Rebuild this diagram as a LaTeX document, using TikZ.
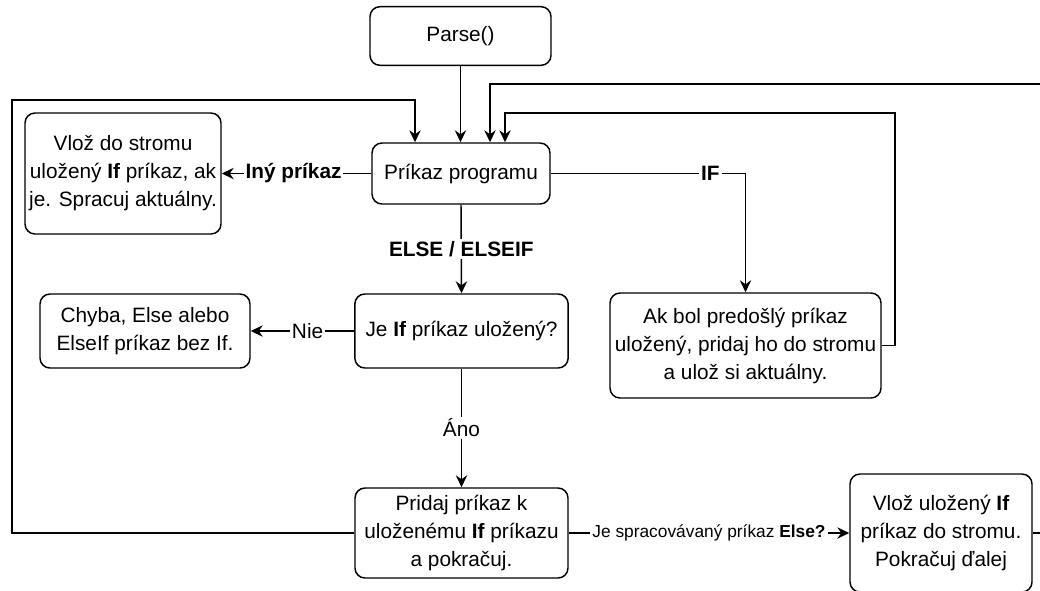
\documentclass[tikz,border=0pt]{standalone}
\usepackage{fontspec}
\setmainfont{Liberation Sans}
\usetikzlibrary{arrows.meta,calc}
\begin{document}
\begin{tikzpicture}[x=0.75pt,y=-0.75pt,
  box/.style={draw, line width=1.1pt, rounded corners=7.5pt, align=center,
    inner sep=0pt, font=\fontsize{15.6}{21}\selectfont},
  lbl/.style={fill=white, inner sep=1.5pt, font=\fontsize{15.6}{21}\selectfont},
  lblsmall/.style={fill=white, inner sep=1.5pt, font=\fontsize{13}{16}\selectfont},
  link/.style={line width=1.1pt},
  arr/.style={line width=1.1pt, -{Stealth[length=9pt,width=8.5pt,inset=3pt]}}]
\clip (0,0) rectangle (1040,590);
\fill[white] (0,0) rectangle (1040,590);

% blocks
\node[box, minimum width=135.75pt, minimum height=44pt] (parse) at (460.5,36) {Parse()};
\node[box, minimum width=133.5pt, minimum height=45.75pt] (prog) at (461,173.5) {Príkaz programu};
\node[box, minimum width=147pt, minimum height=90.75pt] (other) at (123,173.5)
  {Vlož do stromu\\uložený \textbf{If} príkaz, ak\\je. Spracuj aktuálny.};
\node[box, minimum width=160pt, minimum height=55.5pt] (check) at (461.5,331)
  {Je \textbf{If} príkaz uložený?};
\node[box, minimum width=157.5pt, minimum height=55.5pt] (err) at (145,331)
  {Chyba, Else alebo\\ElseIf príkaz bez If.};
\node[box, minimum width=203.25pt, minimum height=78.75pt] (ifst) at (745.5,345.5)
  {Ak bol predošlý príkaz\\uložený, pridaj ho do stromu\\a ulož si aktuálny.};
\node[box, minimum width=159.75pt, minimum height=67.5pt] (add) at (461.5,533)
  {Pridaj príkaz k\\uloženému \textbf{If} príkazu\\a pokračuj.};
\node[box, minimum width=136.5pt, minimum height=88.5pt] (push) at (941,533)
  {Vlož uložený \textbf{If}\\príkaz do stromu.\\Pokračuj ďalej};

% straight connectors
\draw[arr] (parse.south) -- (parse.south |- prog.north);
\draw[arr] (prog.west) -- node[lbl, pos=0.52] {\textbf{Iný príkaz}} (other.east);
\draw[arr] (prog.east) -| node[lbl, pos=0.41] {\textbf{IF}} (ifst.north);
\draw[arr] (prog.south) -- node[lbl] {\textbf{ELSE / ELSEIF}} (check.north);
\draw[arr] (check.west) -- node[lbl, pos=0.45] {Nie} (err.east);
\draw[arr] (check.south) -- node[lbl] {Áno} (add.north);
\draw[arr] (add.east) -- node[lblsmall] {Je spracovávaný príkaz \textbf{Else?}} (push.west);

% loops back to the statement block
\coordinate (loopL) at (12,100);
\coordinate (loopR) at (895,113);
\coordinate (loopT) at (1060,84);
\draw[arr] (add.west) -| (loopL) -| ($(prog.north)+(-46,0)$);
\draw[arr] (ifst.east) -| (loopR) -| ($(prog.north)+(44,0)$);
\draw[arr] (push.east) -| (loopT) -| ($(prog.north)+(29,0)$);
\end{tikzpicture}
\end{document}
